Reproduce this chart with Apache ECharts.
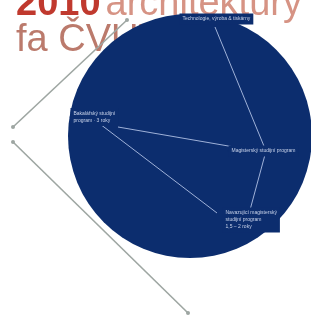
<!DOCTYPE html>
<html>
<head>
<meta charset="utf-8">
<script src="https://cdn.jsdelivr.net/npm/echarts@6/dist/echarts.min.js"></script>
<style>
  html, body { margin: 0; padding: 0; background: #fff; }
  #main { width: 311px; height: 318px; }
</style>
</head>
<body>
<div id="main"></div>
<script>
// plakát – souřadnice v pixelech plátna (osa y obrácená)
const circleCenter = [[190, 136]]
const circleDiameter = 244
const grayUpper = [[127, 20], [13, 127]]
const grayLower = [[13, 142], [188, 313]]
const whiteTop = [[215, 27], [266, 151], [250, 210]]
const whiteLeft1 = [[118, 127], [240, 148]]
const whiteLeft2 = [[100, 124], [217, 213]]
const labelPoints = [
  [179, 19, 'Technologie, výroba & tiskárny'],
  [70, 117, 'Bakalářský studijní\nprogram · 3 roky'],
  [228, 151, 'Magisterský studijní program'],
  [222, 220, 'Navazující magisterský\nstudijní program\n1,5 – 2 roky']
]

let chart = echarts.init(document.getElementById('main'))

function lineSeries (data, color, width, dots) {
  return {
    type: 'line',
    data: data,
    z: 3,
    silent: true,
    symbol: dots ? 'circle' : 'none',
    symbolSize: 4,
    showSymbol: !!dots,
    itemStyle: { color: color },
    lineStyle: { color: color, width: width },
    animation: false
  }
}

let option = {
  animation: false,
  title: [
    {
      left: 11,
      top: -20,
      z: 1,
      text: '{a|2010} {b|architektury}',
      textStyle: {
        rich: {
          a: { fontFamily: 'Liberation Sans', fontWeight: 'bold', fontSize: 38, color: '#c0392e', lineHeight: 40 },
          b: { fontFamily: 'Liberation Sans', fontWeight: 'normal', fontSize: 38, color: '#d69384', lineHeight: 40 }
        }
      }
    },
    {
      left: 11,
      top: 16,
      z: 1,
      text: 'fa ČVUT',
      textStyle: { fontFamily: 'Liberation Sans', fontWeight: 'normal', fontSize: 38, color: '#bb7a6c', lineHeight: 40 }
    }
  ],
  grid: { left: 0, right: 0, top: 0, bottom: 0 },
  xAxis: { type: 'value', min: 0, max: 311, show: false },
  yAxis: { type: 'value', min: 0, max: 318, inverse: true, show: false },
  series: [
    {
      type: 'scatter',
      data: circleCenter,
      symbolSize: circleDiameter,
      z: 2,
      silent: true,
      itemStyle: { color: '#0c2d6e', opacity: 1 }
    },
    lineSeries(grayUpper, '#9ea6a2', 1.6, true),
    lineSeries(grayLower, '#9ea6a2', 1.6, true),
    lineSeries(whiteTop, '#9fb1d8', 1),
    lineSeries(whiteLeft1, '#9fb1d8', 1),
    lineSeries(whiteLeft2, '#9fb1d8', 1),
    {
      type: 'scatter',
      data: labelPoints.map(p => ({ value: [p[0], p[1]], name: p[2] })),
      symbolSize: 1,
      z: 4,
      silent: true,
      itemStyle: { color: '#0c2d6e', opacity: 1 },
      label: {
        show: true,
        position: 'right',
        distance: 0,
        formatter: p => p.name,
        fontFamily: 'Liberation Sans',
        fontSize: 5,
        lineHeight: 7,
        color: '#c9d3ea',
        opacity: 1,
        backgroundColor: '#0c2d6e',
        padding: [2, 3]
      }
    }
  ]
}
option && chart.setOption(option)
</script>
</body>
</html>
